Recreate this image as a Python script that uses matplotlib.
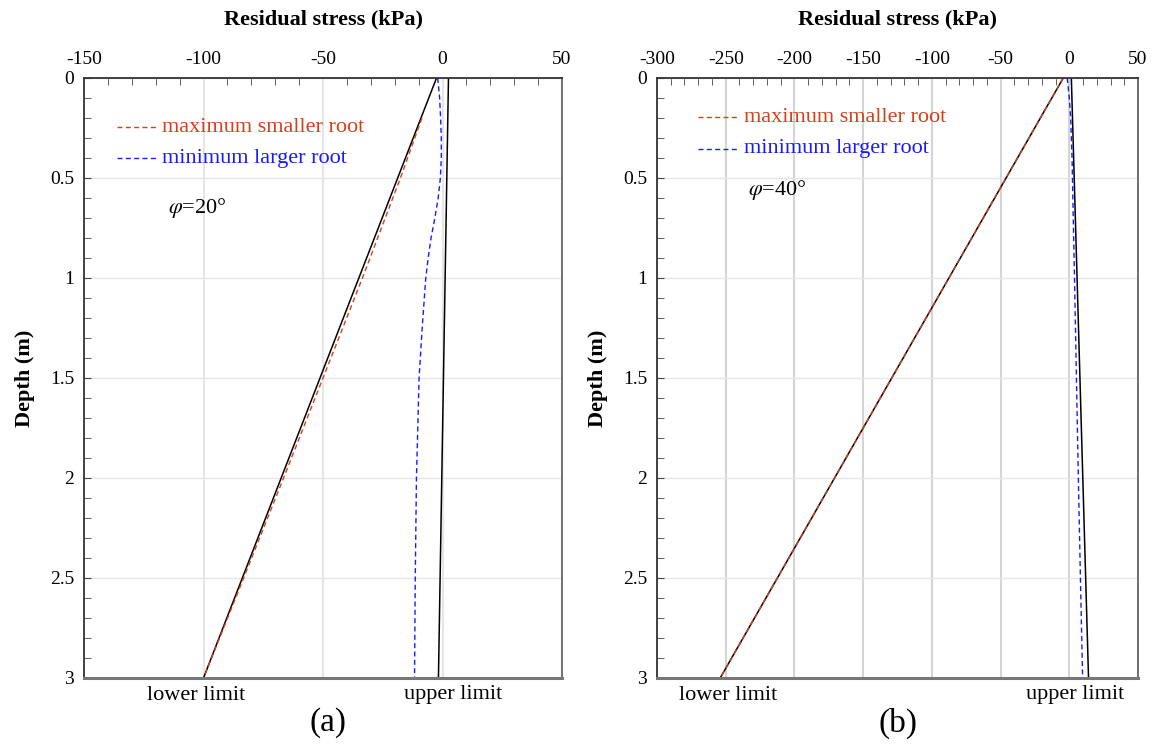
import matplotlib.pyplot as plt
from matplotlib.ticker import MultipleLocator

plt.rcParams['font.family'] = ['Liberation Serif', 'DejaVu Serif']
plt.rcParams['mathtext.fontset'] = 'stix'
plt.rcParams['axes.unicode_minus'] = False

# panel (a), phi = 20 deg
depth_lim = [0.0, 3.0]
a_lower = [-2.5, -100.0]
a_upper = [2.5, -1.7]
a_red_depth = [0.2, 0.5, 1.0, 1.5, 2.0, 2.5, 3.0]
a_red = [-8.6, -17.6, -33.5, -50.0, -66.5, -83.2, -100.0]
a_blue_depth = [0.0, 0.1, 0.2, 0.3, 0.4, 0.5, 0.6, 0.7, 0.8, 0.9, 1.0, 1.25, 1.5, 2.0, 2.5, 3.0]
a_blue = [-2.0, -1.2, -0.8, -0.5, -0.5, -0.9, -1.8, -3.2, -4.8, -6.0, -7.0, -8.5, -9.8, -10.9, -11.4, -11.7]

# panel (b), phi = 40 deg
b_lower = [-4.4, -254.0]
b_upper = [1.5, 14.0]
b_red = [-4.4, -254.0]
b_blue_depth = [0.0, 0.1, 0.2, 0.4, 0.6, 1.0, 1.5, 2.0, 2.5, 3.0]
b_blue = [-1.5, 0.0, 1.0, 2.0, 2.6, 3.8, 5.2, 6.6, 8.1, 9.7]

red = '#d4401a'
blue = '#1a1aff'
dash = (0, (3.6, 2.4))

fig = plt.figure(figsize=(11.55, 7.45), dpi=100)


def style_axes(ax, xmin, xmax, vgrid_color):
    ax.set_xlim(xmin, xmax)
    ax.set_ylim(3, 0)
    ax.xaxis.set_ticks_position('top')
    ax.xaxis.set_label_position('top')
    ax.xaxis.set_major_locator(MultipleLocator(50))
    ax.xaxis.set_minor_locator(MultipleLocator(10))
    ax.yaxis.set_minor_locator(MultipleLocator(0.1))
    ax.set_yticks([0, 0.5, 1, 1.5, 2, 2.5, 3])
    ax.set_yticklabels(['0', '0.5', '1', '1.5', '2', '2.5', '3'])
    ax.tick_params(which='both', direction='in', labelsize=14, color='#444444')
    ax.tick_params(which='major', length=0, pad=7)
    ax.tick_params(which='minor', length=5)
    ax.tick_params(axis='y', which='major', length=5)
    ax.grid(axis='y', color='#e6e6e6', lw=1)
    ax.grid(axis='x', color=vgrid_color, lw=1.5)
    ax.set_axisbelow(True)
    for s in ['left', 'top']:
        ax.spines[s].set_color('#333333')
        ax.spines[s].set_linewidth(1.3)
    ax.spines['right'].set_color('#666666')
    ax.spines['right'].set_linewidth(1.3)
    ax.spines['bottom'].set_color('#777777')
    ax.spines['bottom'].set_linewidth(2.2)
    ax.set_xlabel('Residual stress (kPa)', fontsize=16, fontweight='bold', labelpad=19)
    ax.set_ylabel('Depth (m)', fontsize=16, fontweight='bold', labelpad=11)


ax1 = fig.add_axes([84 / 1155, 67 / 745, 478 / 1155, 600 / 745])
style_axes(ax1, -150, 50, '#e6e6e6')
ax1.plot(a_lower, depth_lim, color='black', lw=1.1)
ax1.plot(a_upper, depth_lim, color='black', lw=1.1)
ax1.plot(a_red, a_red_depth, color=red, lw=1, ls=dash)
ax1.plot(a_blue, a_blue_depth, color=blue, lw=1, ls=dash)
ax1.plot([-136, -120], [0.245, 0.245], color=red, lw=1, ls=dash)
ax1.text(-117.5, 0.245, 'maximum smaller root', color=red, fontsize=16, va='center')
ax1.plot([-136, -120], [0.4, 0.4], color=blue, lw=1, ls=dash)
ax1.text(-117.5, 0.4, 'minimum larger root', color=blue, fontsize=16, va='center')
ax1.text(-115, 0.65, r'$\varphi$=20°', fontsize=16, va='center')
ax1.text(-103, 3.085, 'lower limit', fontsize=16, ha='center', va='center')
ax1.text(4.5, 3.085, 'upper limit', fontsize=16, ha='center', va='center')
ax1.text(-48, 3.225, '(a)', fontsize=24, ha='center', va='center')

ax2 = fig.add_axes([657 / 1155, 67 / 745, 481 / 1155, 600 / 745])
style_axes(ax2, -300, 50, '#d4d4d4')
ax2.plot(b_lower, depth_lim, color='black', lw=1.1)
ax2.plot(b_upper, depth_lim, color='black', lw=1.1)
ax2.plot(b_red, depth_lim, color=red, lw=1, ls=dash)
ax2.plot(b_blue, b_blue_depth, color=blue, lw=1, ls=dash)
ax2.plot([-270, -241], [0.195, 0.195], color=red, lw=1, ls=dash)
ax2.text(-237, 0.195, 'maximum smaller root', color=red, fontsize=16, va='center')
ax2.plot([-270, -241], [0.355, 0.355], color=blue, lw=1, ls=dash)
ax2.text(-237, 0.355, 'minimum larger root', color=blue, fontsize=16, va='center')
ax2.text(-234, 0.56, r'$\varphi$=40°', fontsize=16, va='center')
ax2.text(-248, 3.085, 'lower limit', fontsize=16, ha='center', va='center')
ax2.text(4, 3.085, 'upper limit', fontsize=16, ha='center', va='center')
ax2.text(-125, 3.225, '(b)', fontsize=24, ha='center', va='center')

fig.savefig('out.png', dpi=100)
